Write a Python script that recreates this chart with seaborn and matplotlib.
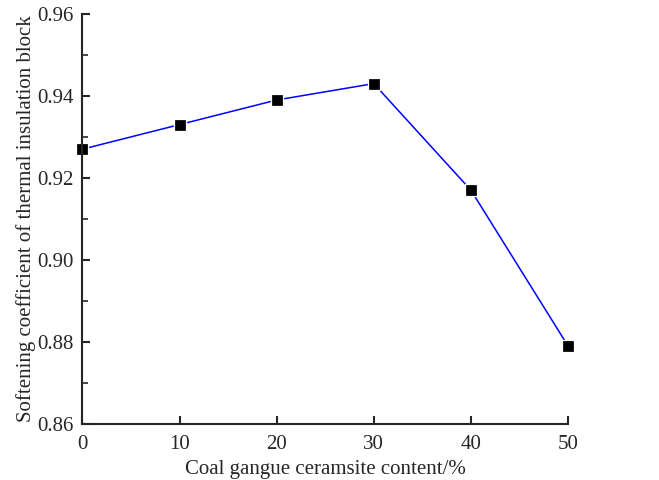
import matplotlib
matplotlib.use("Agg")
import matplotlib.pyplot as plt
import seaborn as sns
import pandas as pd
from matplotlib.ticker import MultipleLocator

# data
content = [0, 10, 20, 30, 40, 50]
softening = [0.927, 0.933, 0.939, 0.943, 0.917, 0.879]

df = pd.DataFrame({"content": content, "softening": softening})

sns.set_style("ticks")
plt.rcParams['font.family'] = ['Liberation Serif', 'DejaVu Serif']
plt.rcParams['xtick.direction'] = 'in'
plt.rcParams['ytick.direction'] = 'in'

fig = plt.figure(figsize=(6.59, 4.8), dpi=100)
ax = fig.add_axes([0.125, 0.117, 0.737, 0.854])

sns.lineplot(data=df, x="content", y="softening", ax=ax, color="#0000ff",
             linewidth=1.1, marker="s", markersize=8.5,
             markerfacecolor="black", markeredgecolor="white",
             markeredgewidth=0.9, clip_on=False)

ax.set_xlim(0, 50)
ax.set_ylim(0.86, 0.96)
ax.set_xticks(content)
ax.set_yticks([0.86, 0.88, 0.90, 0.92, 0.94, 0.96])
ax.yaxis.set_minor_locator(MultipleLocator(0.01))
ax.tick_params(axis='both', which='major', length=6, width=1.5, labelsize=15)
ax.tick_params(axis='x', pad=8)
ax.tick_params(axis='y', pad=6)
ax.tick_params(axis='y', which='minor', length=4, width=1.2)
for side in ['left', 'bottom']:
    ax.spines[side].set_linewidth(1.5)
sns.despine(ax=ax)

ax.set_xlabel("Coal gangue ceramsite content/%", fontsize=15, labelpad=4)
ax.set_ylabel("Softening coefficient of thermal insulation block", fontsize=15, labelpad=1)

fig.savefig("out.png", dpi=100)
